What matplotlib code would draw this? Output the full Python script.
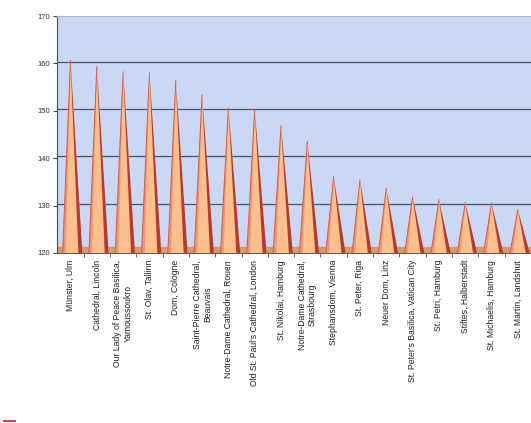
import matplotlib
matplotlib.use("Agg")
import matplotlib.pyplot as plt
from matplotlib.lines import Line2D

churches = [
    "Münster, Ulm",
    "Cathedral, Lincoln",
    "Our Lady of Peace Basilica,\nYamoussoukro",
    "St. Olav, Tallinn",
    "Dom, Cologne",
    "Saint-Pierre Cathedral,\nBeauvais",
    "Notre-Dame Cathedral, Rouen",
    "Old St. Paul's Cathedral, London",
    "St. Nikolai, Hamburg",
    "Notre-Dame Cathedral,\nStrasbourg",
    "Stephansdom, Vienna",
    "St. Peter, Riga",
    "Neuer Dom, Linz",
    "St. Peter's Basilica, Vatican City",
    "St. Petri, Hamburg",
    "Stiftes, Halberstadt",
    "St. Michaelis, Hamburg",
    "St. Martin, Landshut",
]
heights = [160.6, 159.3, 158.2, 158.0, 156.4, 153.3, 150.6, 150.2, 146.8,
           143.5, 136.1, 135.4, 133.6, 131.8, 131.2, 130.6, 130.5, 129.1]
y_ticks = [120, 130, 140, 150, 160, 170]

plt.rcParams['font.family'] = ['Liberation Sans', 'DejaVu Sans']

fig = plt.figure(figsize=(5.31, 4.23), dpi=100)
ax = fig.add_axes([0.108, 0.402, 0.892, 0.560])
ax.set_facecolor('#CAD8F6')

base = 120
for i, h in enumerate(heights):
    # cone body: reddish left strip, orange middle, dark red right side
    ax.fill([i - 0.3, i, i + 0.45], [base, h, base], color='#FBC08C', lw=0, zorder=3)
    ax.fill([i - 0.3, i, i - 0.18], [base, h, base], color='#F09478', lw=0, zorder=3)
    ax.fill([i + 0.3, i, i + 0.45], [base, h, base], color='#B63A30', lw=0, zorder=3)
    ax.plot([i - 0.3, i], [base, h], color='#DA5843', lw=0.7, zorder=4)

# floor
ax.axhspan(base, base + 1.3, color='#D49C6C', zorder=2)

for t in y_ticks[1:-1]:
    ax.axhline(t + 0.4, color='#46556C', lw=0.9, zorder=1)

ax.set_xlim(-0.5, len(heights) - 0.5)
ax.set_ylim(120, 170)
ax.set_yticks(y_ticks)
ax.set_yticklabels([str(t) for t in y_ticks], fontsize=5.5, color='#333333')
ax.tick_params(axis='y', length=3, width=0.8, color='#444444', pad=2)

ax.set_xticks(range(len(churches)))
ax.set_xticklabels(churches, rotation=90, fontsize=6.2, color='#222222', va='top')
ax.set_xticks([i + 0.5 for i in range(len(churches) - 1)], minor=True)
ax.tick_params(axis='x', which='major', length=0, pad=5)
ax.tick_params(axis='x', which='minor', length=3, color='#555555')

ax.spines['left'].set_color('#4A4A4A')
ax.spines['bottom'].set_color('#7A5A40')
ax.spines['top'].set_color('#BBBBBB')
ax.spines['right'].set_visible(False)

fig.add_artist(Line2D([0.008, 0.028], [0.004, 0.004], color='#E84040', lw=1.5))

fig.savefig('out.png', dpi=100)
